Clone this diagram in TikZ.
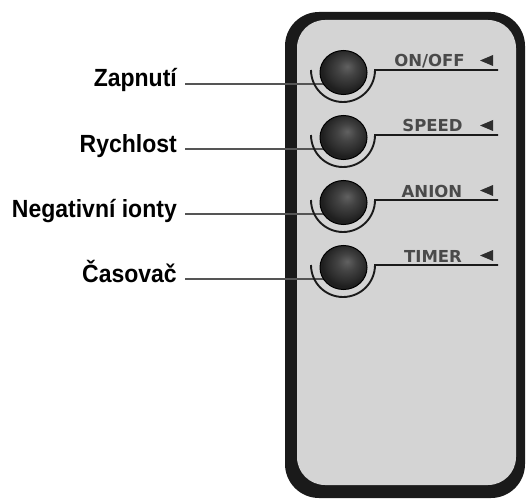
\documentclass[tikz,border=0pt]{standalone}
\usepackage{fontspec}
\setmainfont{Liberation Sans}
\newfontfamily\dvs{DejaVu Sans}
\usetikzlibrary{shapes.geometric}
\definecolor{bodygray}{HTML}{D4D4D4}
\definecolor{rim}{HTML}{1A1A1A}
\definecolor{ttext}{HTML}{4A4A4A}
\definecolor{leadline}{HTML}{555555}
\pgfdeclareradialshading{btnshade}{\pgfpoint{4bp}{7bp}}{color(0bp)=(black!62); color(10bp)=(black!74); color(20bp)=(black!83); color(25bp)=(black!88); color(50bp)=(black!88)}
\begin{document}
\begin{tikzpicture}[x=1pt,y=1pt,
  lbl/.style={font=\fontsize{23}{23}\selectfont\bfseries, inner sep=0pt, anchor=base east},
  key/.style={font=\dvs\fontsize{16.5}{16.5}\selectfont\bfseries, text=ttext, inner sep=0pt, anchor=base},
  btn/.style={ellipse, minimum width=47pt, minimum height=44pt, inner sep=0pt, shading=btnshade, draw=black, line width=1pt},
  lead/.style={draw=leadline, line width=1.7pt},
  ring/.style={draw=rim, line width=1.9pt},
  tri/.style={fill=black!82}]
\useasboundingbox (0,0) rectangle (527,499);
\fill[rim, rounded corners=34pt] (285,1) rectangle (525,487);
\fill[bodygray, rounded corners=28pt] (297,14) rectangle (516,479);
\foreach \i/\Y/\lt/\rt/\rx in {1/429/Zapnutí/{ON/OFF}/429.5, 2/364/Rychlost/SPEED/432.5, 3/299/Negativní ionty/ANION/432, 4/234/Časovač/TIMER/433}{
  \node[lbl] (l\i) at (177,\Y-17) {\scalebox{1}[1.08]{\lt}};
  \coordinate (c\i) at (343.5,\Y-2.5);
  \coordinate (a\i) at (311,\Y);
  \coordinate (e\i) at (498,\Y);
  \draw[lead] ([xshift=8pt,yshift=0.5pt]l\i.mid east) -- ([yshift=0.5pt]l\i.mid east -| c\i);
  \node[btn] (b\i) at (c\i) {};
  \draw[ring] (a\i) arc[start angle=180, end angle=360, radius=32] -- (e\i);
  \node[key] (k\i) at (\rx,\Y+3) {\rt};
  \fill[tri] (480,\Y+9.5) -- (493,\Y+15) -- (493,\Y+4) -- cycle;
}
\end{tikzpicture}
\end{document}
